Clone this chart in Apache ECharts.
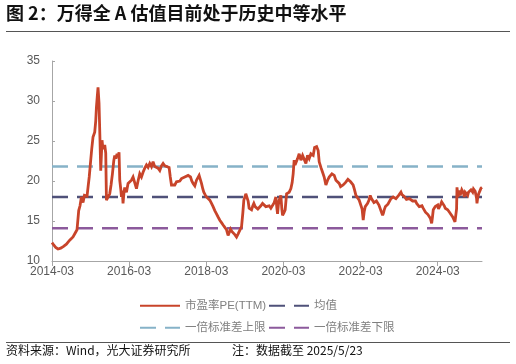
<!DOCTYPE html>
<html><head><meta charset="utf-8">
<script src="https://cdn.jsdelivr.net/npm/echarts@6/dist/echarts.min.js"></script>
<style>html,body{margin:0;padding:0;background:#fff}#c{width:516px;height:364px}</style>
</head><body><div id="c"></div>
<script>
// x positions: months elapsed since 2014-03
const monthsSince201403 = [0,0.53,1.15,1.87,2.71,3.49,4.48,5.51,6.54,7.22,7.78,8.09,8.31,8.72,9.15,9.65,10.09,10.49,10.90,11.21,11.58,11.96,12.36,12.76,13.29,13.61,13.82,14.07,14.32,14.63,14.94,15.16,15.57,15.85,16.10,16.41,16.72,16.94,17.19,17.43,17.96,18.37,18.80,19.21,19.52,19.89,20.24,20.55,20.86,21.08,21.39,21.61,21.86,22.10,22.38,22.63,23.16,23.66,24.19,24.72,25.22,25.75,26.28,26.77,27.30,27.83,28.33,28.86,29.39,29.89,30.42,30.95,31.44,31.97,32.50,33.00,33.53,34.06,34.56,35.09,35.62,36.43,36.80,37.17,37.67,38.20,38.73,39.23,39.76,40.29,40.78,41.31,41.84,42.34,43.09,43.49,43.90,44.43,44.96,45.36,45.77,46.14,46.51,46.92,47.23,47.63,48.07,48.57,49.10,49.63,50.12,50.65,51.18,51.68,52.21,52.74,53.24,53.77,54.30,54.79,55.17,55.54,55.95,56.35,56.88,57.41,57.91,58.44,58.97,59.37,59.68,59.99,60.30,60.71,61.02,61.33,61.71,62.08,62.48,62.80,63.20,63.64,64.04,64.45,64.97,65.50,66.00,66.53,67.06,67.56,68.09,68.62,69.12,69.65,69.96,70.17,70.42,70.67,71.20,71.51,71.73,72.14,72.54,72.98,73.38,73.79,74.32,74.72,75.03,75.34,75.62,75.87,76.40,76.90,77.43,77.96,78.46,78.99,79.51,80.01,80.54,81.26,81.69,82.32,82.81,83.13,83.66,84.18,84.68,85.21,85.74,86.24,86.67,87.08,87.80,88.33,88.86,89.35,89.79,90.19,90.57,90.91,91.28,91.66,92.06,92.47,92.90,93.31,93.68,94.02,94.30,94.55,95.08,95.58,96.11,96.48,96.82,97.14,97.45,97.82,98.19,98.60,99.00,99.38,99.75,100.16,100.56,100.93,101.31,101.71,102.02,102.43,102.86,103.11,103.36,103.74,104.11,104.51,104.92,105.45,105.82,106.16,106.60,107.00,107.41,107.84,108.25,108.56,108.87,109.09,109.50,109.90,110.27,110.65,111.15,111.67,112.20,112.70,113.08,113.45,113.85,114.26,114.69,115.10,115.47,115.82,116.19,116.56,116.97,117.37,117.75,118.12,118.37,118.62,118.93,119.24,119.61,119.99,120.24,120.49,120.86,121.23,121.48,121.73,122.04,122.35,122.73,123.10,123.51,123.82,124.22,124.66,125.00,125.37,125.68,125.87,126.00,126.31,126.53,126.71,126.99,127.24,127.49,127.77,128.02,128.27,128.55,128.80,129.05,129.33,129.58,129.83,130.11,130.35,130.60,130.88,131.13,131.38,131.66,131.91,132.10,132.22,132.47,132.75,132.97,133.16,133.47,133.78];
const peTTM = [12.3,12.0,11.7,11.5,11.6,11.8,12.1,12.6,13.0,13.5,13.9,14.0,16.3,16.9,18.0,17.3,18.2,18.4,18.1,19.2,20.5,22.2,24.0,25.5,26.1,27.5,29.2,30.5,31.7,29.7,25.0,21.3,25.1,24.0,23.8,24.5,23.5,17.6,17.8,17.4,18.4,19.5,20.9,22.5,23.2,22.8,23.4,23.0,23.6,20.1,19.0,18.0,18.8,17.2,18.5,19.2,18.6,19.7,19.5,20.1,20.5,20.7,19.05,20.0,20.9,20.5,21.1,21.6,22.0,21.7,22.2,21.8,22.4,21.8,22.0,21.6,21.3,21.9,22.2,21.9,22.0,21.7,20.5,19.5,19.4,19.5,19.9,20.1,20.0,20.3,20.2,20.5,20.4,20.7,20.5,20.0,19.7,19.4,20.1,20.4,20.7,20.2,19.7,19.0,18.6,18.3,18.0,17.8,17.6,17.2,16.8,16.3,15.9,15.5,15.1,14.8,14.5,14.2,13.9,13.2,13.6,14.0,13.7,13.6,13.3,13.0,13.4,13.6,14.3,16.0,17.6,18.0,18.4,18.6,17.5,16.6,16.8,16.4,16.9,17.2,16.8,16.8,16.5,16.4,16.9,17.2,17.0,16.8,16.9,16.9,16.6,16.7,17.3,18.0,16.6,15.9,17.0,17.6,18.2,16.5,15.7,16.0,16.4,18.4,18.3,18.6,19.05,19.8,20.9,22.6,22.0,22.2,22.8,23.4,22.6,23.2,23.0,22.2,23.2,22.8,23.4,23.2,24.2,24.3,23.8,22.4,21.7,21.1,20.5,19.5,20.1,20.5,20.7,20.9,20.7,20.1,19.9,19.7,19.3,19.05,19.5,19.4,19.8,19.8,20.2,20.1,19.9,19.9,19.5,19.05,18.6,18.2,18.0,17.6,17.4,16.5,15.1,16.2,16.8,17.0,17.2,17.6,18.2,17.8,17.6,17.3,17.2,17.5,17.4,17.0,16.8,16.2,15.7,16.0,16.4,16.8,17.0,17.1,17.2,17.8,17.7,18.0,17.8,17.8,18.0,18.2,18.3,18.6,18.3,18.2,18.1,18.0,17.7,17.6,17.8,17.6,17.5,17.4,17.5,17.2,17.0,16.8,17.0,16.9,16.6,16.4,16.1,15.9,15.8,15.7,15.3,14.7,15.5,16.4,16.6,16.8,16.9,17.0,16.5,16.4,17.0,17.4,17.3,17.2,16.9,16.6,16.5,16.4,16.3,16.0,15.9,15.5,15.3,14.9,15.0,16.5,19.2,18.0,18.5,18.8,18.2,18.4,18.9,19.0,18.5,18.0,18.6,18.8,18.4,18.2,18.6,18.8,18.5,18.9,18.7,18.6,19.0,19.1,18.7,18.6,17.8,17.2,18.0,18.4,18.6,18.8,19.1,19.2];
const seriesNames = ['市盈率PE(TTM)', '均值', '一倍标准差上限', '一倍标准差下限'];
const meanPE = 18.0;
const upperPE = 21.8;
const lowerPE = 14.1;
const xTickMonths = [0, 24, 48, 72, 96, 120];
const yTicks = [10, 15, 20, 25, 30, 35];

const n = Math.min(monthsSince201403.length, peTTM.length);
const peData = [];
for (let i = 0; i < n; i++) peData.push([monthsSince201403[i], peTTM[i]]);
const xMin = monthsSince201403[0], xMax = monthsSince201403[n - 1];
const flat = v => [[xMin, v], [xMax, v]];
const fmtMonth = v => {
  const total = Math.round(v) + 2; // 0 -> March (index 2)
  const y = 2014 + Math.floor(total / 12);
  const m = (total % 12) + 1;
  return y + '-' + (m < 10 ? '0' + m : m);
};

const FONT = '"Liberation Sans", "Noto Sans CJK SC", sans-serif';
const C_PE = '#C8442A', C_MEAN = '#4F5179', C_UP = '#86B2C8', C_LOW = '#8C5A9C';
const dash = [16, 9];

const chart = echarts.init(document.getElementById('c'), null, {renderer: 'canvas'});
const legendBase = {
  itemWidth: 40, itemHeight: 14, itemGap: 4,
  itemStyle: {opacity: 0},
  textStyle: {color: '#7f7f7f', fontSize: 11.5, fontFamily: FONT},
  selectedMode: false
};
chart.setOption({
  animation: false,
  backgroundColor: '#fff',
  grid: {left: 52, right: 34, top: 61, bottom: 103},
  legend: [
    Object.assign({data: [seriesNames[0]], left: 134, top: 295}, legendBase),
    Object.assign({data: [seriesNames[1]], left: 263, top: 295}, legendBase),
    Object.assign({data: [seriesNames[2]], left: 134, top: 317}, legendBase),
    Object.assign({data: [seriesNames[3]], left: 263, top: 317}, legendBase)
  ],
  xAxis: {
    type: 'value', min: xMin, max: xMax,
    axisLine: {show: true, lineStyle: {color: '#a6a6a6', width: 1}},
    axisTick: {show: true, length: 5, customValues: xTickMonths, lineStyle: {color: '#a6a6a6'}},
    axisLabel: {customValues: xTickMonths, formatter: fmtMonth, color: '#595959', fontSize: 12, fontFamily: FONT, margin: 5},
    splitLine: {show: false}
  },
  yAxis: {
    type: 'value', min: yTicks[0], max: yTicks[yTicks.length - 1], interval: 5,
    axisLine: {show: true, lineStyle: {color: '#a6a6a6', width: 1}},
    axisTick: {show: true, inside: true, length: 3, lineStyle: {color: '#a6a6a6'}},
    axisLabel: {color: '#595959', fontSize: 12, fontFamily: FONT, margin: 12},
    splitLine: {show: false}
  },
  series: [
    {name: seriesNames[2], type: 'line', data: flat(upperPE), symbol: 'none', color: C_UP,
     lineStyle: {color: C_UP, width: 2.5, type: dash}, z: 2},
    {name: seriesNames[1], type: 'line', data: flat(meanPE), symbol: 'none', color: C_MEAN,
     lineStyle: {color: C_MEAN, width: 2.5, type: dash}, z: 2},
    {name: seriesNames[3], type: 'line', data: flat(lowerPE), symbol: 'none', color: C_LOW,
     lineStyle: {color: C_LOW, width: 2.5, type: dash}, z: 2},
    {name: seriesNames[0], type: 'line', data: peData, symbol: 'none', color: C_PE,
     lineStyle: {color: C_PE, width: 2.8, join: 'miter', miterLimit: 3}, z: 3}
  ],
  graphic: [
    {type: 'text', left: 6, top: 4, style: {text: '图 2：万得全 A 估值目前处于历史中等水平', font: 'bold 18px "Noto Sans CJK SC", sans-serif', fill: '#111'}},
    {type: 'line', shape: {x1: 6, y1: 31.5, x2: 510, y2: 31.5}, style: {stroke: '#555', lineWidth: 1}},
    {type: 'line', shape: {x1: 6, y1: 342.5, x2: 510, y2: 342.5}, style: {stroke: '#555', lineWidth: 1}},
    {type: 'text', left: 6, top: 344, style: {text: '资料来源：Wind，光大证券研究所', font: '12px "Noto Sans CJK SC", sans-serif', fill: '#111'}},
    {type: 'text', left: 232, top: 344, style: {text: '注：数据截至 2025/5/23', font: '12px "Noto Sans CJK SC", sans-serif', fill: '#111'}}
  ]
});
</script></body></html>
